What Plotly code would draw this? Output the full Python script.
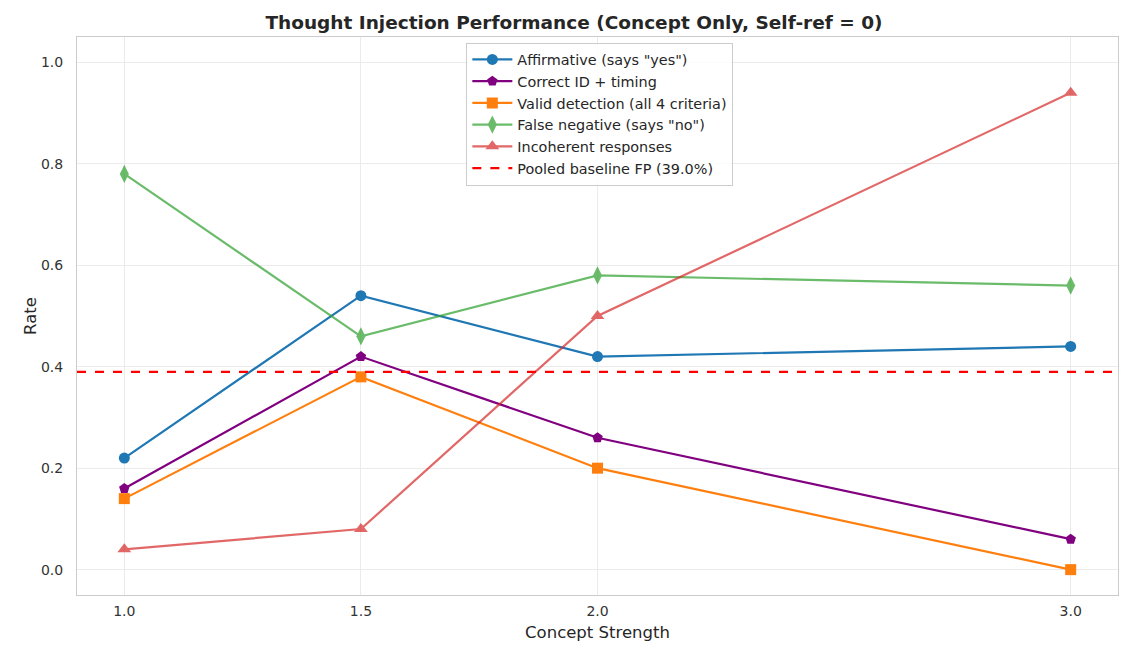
import plotly.graph_objects as go

strengths = [1.0, 1.5, 2.0, 3.0]
affirmative = [0.22, 0.54, 0.42, 0.44]
correct_id = [0.16, 0.42, 0.26, 0.06]
valid_detection = [0.14, 0.38, 0.20, 0.00]
false_negative = [0.78, 0.46, 0.58, 0.56]
incoherent = [0.04, 0.08, 0.50, 0.94]
baseline_fp = 0.39

series = [
    ("Affirmative (says \"yes\")", affirmative, "#1f77b4", "circle", 1.0, 11),
    ("Correct ID + timing", correct_id, "#800080", "pentagon", 1.0, 11),
    ("Valid detection (all 4 criteria)", valid_detection, "#ff7f0e", "square", 1.0, 11),
    ("False negative (says \"no\")", false_negative, "#2ca02c", "diamond-tall", 0.7, 13),
    ("Incoherent responses", incoherent, "#d62728", "triangle-up", 0.7, 12),
]

fig = go.Figure()
for name, vals, color, sym, op, ms in series:
    fig.add_trace(go.Scatter(
        x=strengths, y=vals, name=name, mode="lines+markers",
        line=dict(color=color, width=2.2),
        marker=dict(symbol=sym, size=ms, color=color, line=dict(width=0)),
        opacity=op,
    ))

fig.add_trace(go.Scatter(
    x=[0.9, 3.1], y=[baseline_fp, baseline_fp], mode="lines",
    name=f"Pooled baseline FP ({baseline_fp*100:.1f}%)",
    line=dict(color="#ff0000", width=2.2, dash="dash"),
))

fig.update_layout(
    width=1148, height=661,
    margin=dict(l=77, r=30, t=37, b=66),
    paper_bgcolor="white", plot_bgcolor="white",
    font=dict(family="DejaVu Sans", size=14, color="#262626"),
    title=dict(text="<b>Thought Injection Performance (Concept Only, Self-ref = 0)</b>",
               x=0.5, xanchor="center", y=0.975, yanchor="top",
               font=dict(size=18.5, color="#262626")),
    showlegend=True,
    legend=dict(x=0.374, y=0.99, xanchor="left", yanchor="top",
                bgcolor="rgba(255,255,255,0.85)", bordercolor="#cccccc", borderwidth=1,
                font=dict(size=14.4, color="#262626"), tracegroupgap=0, itemwidth=40),
)
fig.update_xaxes(
    range=[0.9, 3.1], tickvals=strengths, ticktext=["1.0", "1.5", "2.0", "3.0"],
    showgrid=True, gridcolor="#ebebeb", gridwidth=1,
    showline=True, linecolor="#cccccc", linewidth=1, mirror=True,
    zeroline=False, ticks="", ticklabelstandoff=3,
    title=dict(text="Concept Strength", font=dict(size=16.5), standoff=8),
    tickfont=dict(size=14, color="#333333"),
)
fig.update_yaxes(
    range=[-0.05, 1.05], tickvals=[0, 0.2, 0.4, 0.6, 0.8, 1.0],
    ticktext=["0.0", "0.2", "0.4", "0.6", "0.8", "1.0"],
    showgrid=True, gridcolor="#ebebeb", gridwidth=1,
    showline=True, linecolor="#cccccc", linewidth=1, mirror=True,
    zeroline=False, ticks="", ticklabelstandoff=10,
    title=dict(text="Rate", font=dict(size=16.5), standoff=0),
    tickfont=dict(size=14, color="#333333"),
)

fig.write_html("out.html")
